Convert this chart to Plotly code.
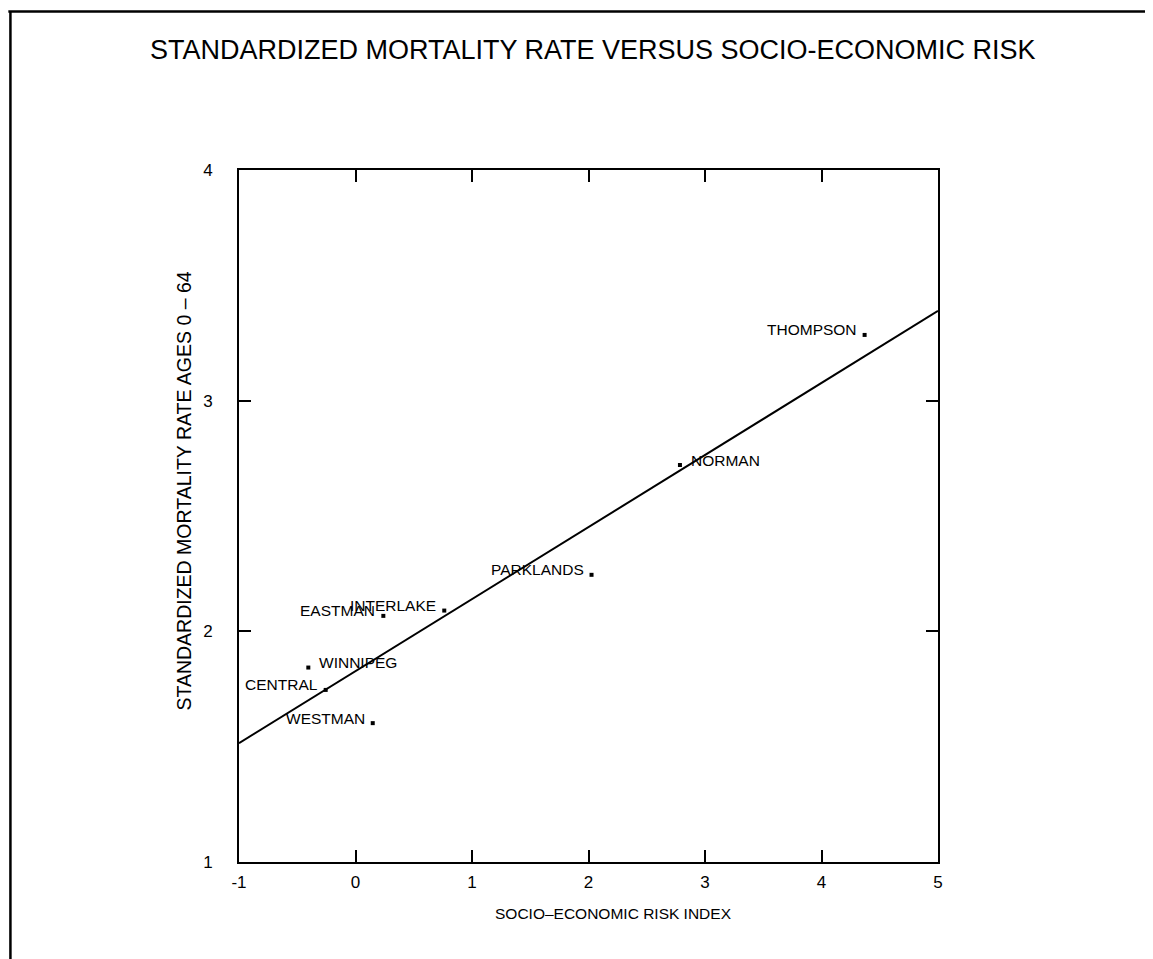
import plotly.graph_objects as go

# ---- data ----
regions = ["THOMPSON", "NORMAN", "PARKLANDS", "INTERLAKE", "EASTMAN", "WINNIPEG", "CENTRAL", "WESTMAN"]
risk_index = [4.37, 2.785, 2.026, 0.762, 0.239, -0.405, -0.256, 0.148]
mortality = [3.285, 2.721, 2.245, 2.09, 2.067, 1.843, 1.746, 1.602]
label_side = ["left", "right", "left", "left", "left", "right", "left", "left"]

fit_x = [-1, 5]
fit_y = [1.515, 3.389]

x_ticks = [-1, 0, 1, 2, 3, 4, 5]
y_ticks = [1, 2, 3, 4]

FONT = "Liberation Sans, Arial, Helvetica, sans-serif"

fig = go.Figure()
fig.add_trace(go.Scatter(x=fit_x, y=fit_y, mode="lines",
                         line=dict(color="black", width=2), hoverinfo="skip"))
fig.add_trace(go.Scatter(x=risk_index, y=mortality, mode="markers",
                         marker=dict(color="black", size=4, symbol="square"),
                         text=regions))

annotations = []
for name, xv, yv, side in zip(regions, risk_index, mortality, label_side):
    annotations.append(dict(
        x=xv, y=yv, xref="x", yref="y", text=name, showarrow=False,
        xanchor="right" if side == "left" else "left",
        yanchor="middle",
        xshift=-6 if side == "left" else 9, yshift=5,
        font=dict(family=FONT, size=15.5, color="black")))

# title and axis titles
annotations.append(dict(text="STANDARDIZED MORTALITY RATE VERSUS SOCIO-ECONOMIC RISK",
                        xref="paper", yref="paper", x=0.506, y=1.173,
                        xanchor="center", yanchor="middle", showarrow=False,
                        font=dict(family=FONT, size=27, color="black")))
annotations.append(dict(text="STANDARDIZED MORTALITY RATE AGES 0 \u2013 64",
                        xref="paper", yref="paper", x=-0.078, y=0.536,
                        xanchor="center", yanchor="middle", showarrow=False,
                        textangle=-90,
                        font=dict(family=FONT, size=19.5, color="black")))
annotations.append(dict(text="SOCIO\u2013ECONOMIC RISK INDEX",
                        xref="paper", yref="paper", x=0.536, y=-0.074,
                        xanchor="center", yanchor="middle", showarrow=False,
                        font=dict(family=FONT, size=15.5, color="black")))

fig.update_layout(
    width=1153, height=959,
    margin=dict(l=231, r=223, t=162, b=105),
    paper_bgcolor="white", plot_bgcolor="white",
    showlegend=False,
    annotations=annotations,
    shapes=[
        dict(type="line", xref="paper", yref="paper", x0=-0.33, x1=1.33, y0=1.229, y1=1.229,
             line=dict(color="black", width=2.5)),
        dict(type="line", xref="paper", yref="paper", x0=-0.327, x1=-0.327, y0=1.229, y1=-0.2,
             line=dict(color="black", width=2.5)),
    ],
)
fig.update_xaxes(range=[-1, 5], tickvals=x_ticks, ticktext=[str(v) for v in x_ticks],
                 showgrid=False, zeroline=False, showline=True, mirror="ticks",
                 linecolor="black", linewidth=2, ticks="inside", ticklen=12,
                 tickwidth=1.5, tickcolor="black", ticklabelstandoff=4,
                 tickfont=dict(family=FONT, size=17, color="black"))
fig.update_yaxes(range=[1, 4], tickvals=y_ticks, ticktext=[str(v) for v in y_ticks],
                 showgrid=False, zeroline=False, showline=True, mirror="ticks",
                 linecolor="black", linewidth=2, ticks="inside", ticklen=12,
                 tickwidth=1.5, tickcolor="black", ticklabelstandoff=21,
                 tickfont=dict(family=FONT, size=17, color="black"))

fig.write_html("out.html")
